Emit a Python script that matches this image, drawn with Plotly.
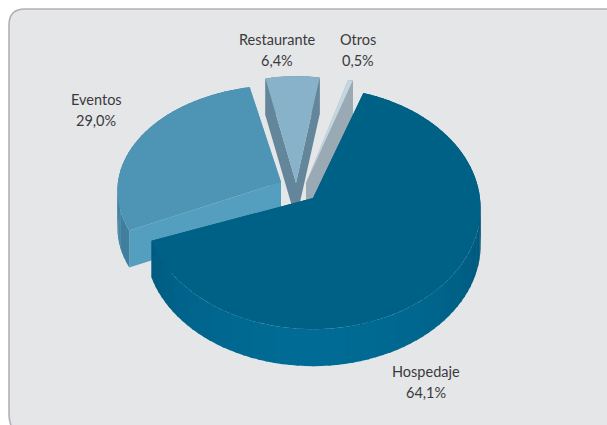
import math
import plotly.graph_objects as go

# Income split by line of business
categories = ["Hospedaje", "Eventos", "Restaurante", "Otros"]
shares = [64.1, 29.0, 6.4, 0.5]
share_labels = ["64,1%", "29,0%", "6,4%", "0,5%"]

WIDTH, HEIGHT = 607, 425
DEPTH = 37          # height of the pie's side wall
PERSPECTIVE = 0.085 # far edge shrinks, near edge grows

# Per-slice drawing setup: exploded apex, radii, clockwise start angle from 12 o'clock
slice_style = {
    "Hospedaje":   dict(ax=313, ay=198, rx=167, ry=120, start=19,
                        top="#006187", cut="#00557a", edge=None),
    "Eventos":     dict(ax=281, ay=182, rx=163, ry=105, start=243.6,
                        top="#4e94b5", cut="#549fc0", edge="#3f7f9e"),
    "Restaurante": dict(ax=296, ay=183, rx=147, ry=116, start=347,
                        top="#88b2ca", cut="#64869a", edge="#64869a"),
    "Otros":       dict(ax=306, ay=183, rx=165, ry=116, start=16,
                        top="#c4d6df", cut="#9aaab4", edge="#9aaab4"),
}
label_style = {
    "Hospedaje": (426, 371), "Eventos": (96, 99),
    "Restaurante": (277, 39), "Otros": (358, 39),
}
draw_order = ["Restaurante", "Otros", "Eventos", "Hospedaje"]


def project(style, deg, radius=1.0):
    """Clockwise angle on the disc to page position, with a tilted perspective."""
    a = math.radians(deg)
    px, py = radius * math.sin(a), radius * math.cos(a)
    s = 1 / (1 + PERSPECTIVE * py)
    return style["ax"] + style["rx"] * px * s, style["ay"] - style["ry"] * py * s


def polygon(xs, ys, color):
    return go.Scatter(x=xs + xs[:1], y=ys + ys[:1], mode="none", fill="toself",
                      fillcolor=color, hoverinfo="skip", showlegend=False)


def mix(c1, c2, f):
    a = [int(c1[i:i + 2], 16) for i in (1, 3, 5)]
    b = [int(c2[i:i + 2], 16) for i in (1, 3, 5)]
    return "#" + "".join(f"{round(p + (q - p) * f):02x}" for p, q in zip(a, b))


def wall_colour(name, style, deg):
    if name != "Hospedaje":
        return style["edge"]
    f = max(0.0, math.cos(math.radians(deg - 180) * 1.1))
    return mix("#00567a", "#006b94", f)


fig = go.Figure()
shares_by_name = dict(zip(categories, shares))

for name in draw_order:
    st = slice_style[name]
    span = shares_by_name[name] / sum(shares) * 360
    start, end = st["start"], st["start"] + span
    n = max(6, int(span / 2.5))
    angles = [start + span * i / n for i in range(n + 1)]

    # radial cut faces, far one first
    for deg in (start, end):
        ox, oy = project(st, deg)
        fig.add_trace(polygon([st["ax"], ox, ox, st["ax"]],
                              [st["ay"], oy, oy + DEPTH, st["ay"] + DEPTH], st["cut"]))

    # curved outer wall; each strip overlaps the next so no seams show
    for a0, a1 in zip(angles, angles[1:]):
        overlap = min(a1 + 0.6, end)
        x0, y0 = project(st, a0)
        x1, y1 = project(st, overlap)
        fig.add_trace(polygon([x0, x1, x1, x0], [y0, y1, y1 + DEPTH, y0 + DEPTH],
                              wall_colour(name, st, (a0 + a1) / 2)))

    # top face
    arc = [project(st, a) for a in angles]
    fig.add_trace(polygon([st["ax"]] + [p[0] for p in arc],
                          [st["ay"]] + [p[1] for p in arc], st["top"]))

annotations = []
for name, text in zip(categories, share_labels):
    lx, ly = label_style[name]
    for line, y in ((name, ly), (text, ly + 21)):
        annotations.append(dict(x=lx, y=y, text=line, showarrow=False, xanchor="center",
                                yanchor="middle",
                                font=dict(family="Lato", size=14.5, color="#3a3a3c")))

# Rounded panel running off the right and bottom of the page
panel = "M 9 25 Q 9 9 25 9 L 640 9 L 640 432 L 20 432 Q 9 432 9 412 Z"

fig.update_layout(
    width=WIDTH, height=HEIGHT, margin=dict(l=0, r=0, t=0, b=0),
    paper_bgcolor="#ffffff", plot_bgcolor="#ffffff", showlegend=False,
    xaxis=dict(range=[0, WIDTH], visible=False, fixedrange=True),
    yaxis=dict(range=[HEIGHT, 0], visible=False, fixedrange=True),
    annotations=annotations,
    shapes=[dict(type="path", path=panel, layer="below", fillcolor="#e5e6e8",
                 line=dict(color="#b2b2b6", width=1.6))],
)
fig.write_html("out.html", config=dict(displayModeBar=False))
